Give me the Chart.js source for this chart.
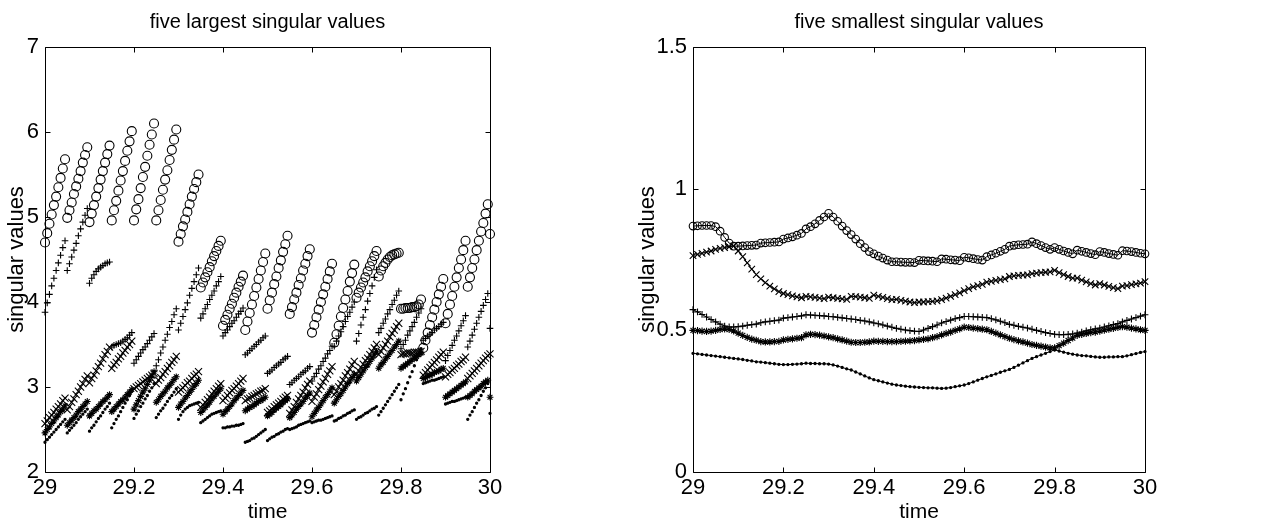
<!DOCTYPE html>
<html>
<head>
<meta charset="utf-8">
<script src="https://cdn.jsdelivr.net/npm/chart.js@4.4.1/dist/chart.umd.min.js"></script>
<style>
  html, body { margin: 0; padding: 0; background: #fff; }
  #wrap { position: relative; width: 1268px; height: 526px; overflow: hidden; }
  canvas { position: absolute; top: 0; }
  #chart-largest { left: 0; width: 630px; height: 526px; }
  #chart-smallest { left: 630px; width: 638px; height: 526px; }
</style>
</head>
<body>
<div id="wrap">
  <canvas id="chart-largest" width="630" height="526"></canvas>
  <canvas id="chart-smallest" width="638" height="526"></canvas>
</div>
<script>
// ---- left panel: five largest singular values, sampled every 0.005 from 29 to 30 ----
// one row per 0.05 block (10 samples), last value is t = 30
var largeCircle = [
  4.70,4.81,4.92,5.03,5.14,5.24,5.35,5.46,5.57,5.68,
  4.99,5.08,5.17,5.27,5.36,5.45,5.54,5.64,5.73,5.82,
  4.94,5.04,5.14,5.24,5.34,5.44,5.54,5.64,5.74,5.84,
  4.96,5.08,5.19,5.31,5.43,5.54,5.66,5.78,5.89,6.01,
  4.96,5.09,5.21,5.34,5.47,5.59,5.72,5.85,5.97,6.10,
  4.96,5.08,5.20,5.32,5.44,5.55,5.67,5.79,5.91,6.03,
  4.71,4.80,4.89,4.97,5.06,5.15,5.24,5.33,5.41,5.50,
  4.17,4.23,4.29,4.35,4.41,4.48,4.54,4.60,4.66,4.72,
  3.72,3.79,3.85,3.92,3.98,4.05,4.11,4.18,4.24,4.31,
  3.67,3.77,3.87,3.97,4.07,4.17,4.27,4.37,4.47,4.57,
  3.92,4.02,4.11,4.21,4.30,4.40,4.49,4.59,4.68,4.78,
  3.86,3.94,4.03,4.11,4.20,4.28,4.37,4.45,4.54,4.62,
  3.64,3.73,3.82,3.91,4.00,4.09,4.18,4.27,4.36,4.45,
  3.52,3.62,3.72,3.83,3.93,4.03,4.13,4.24,4.34,4.44,
  4.05,4.11,4.17,4.23,4.29,4.36,4.42,4.48,4.54,4.60,
  4.30,4.37,4.42,4.46,4.50,4.53,4.55,4.56,4.57,4.58,
  3.92,3.92,3.93,3.93,3.93,3.94,3.94,3.95,3.97,4.03,
  3.46,3.55,3.64,3.73,3.82,3.91,4.00,4.09,4.18,4.27,
  3.75,3.86,3.97,4.07,4.18,4.29,4.40,4.50,4.61,4.72,
  4.18,4.29,4.40,4.50,4.61,4.72,4.83,4.93,5.04,5.15,
  4.80
];
var largePlus = [
  3.88,3.99,4.09,4.19,4.28,4.37,4.46,4.55,4.64,4.72,
  4.37,4.45,4.53,4.61,4.69,4.78,4.86,4.94,5.02,5.10,
  4.22,4.28,4.32,4.36,4.39,4.41,4.43,4.45,4.46,4.47,
  3.47,3.49,3.50,3.51,3.52,3.54,3.56,3.58,3.61,3.64,
  3.28,3.32,3.36,3.40,3.44,3.47,3.51,3.55,3.59,3.63,
  3.25,3.32,3.40,3.47,3.55,3.62,3.70,3.77,3.85,3.92,
  3.67,3.75,3.83,3.91,3.99,4.08,4.16,4.24,4.32,4.40,
  3.81,3.86,3.92,3.97,4.03,4.08,4.13,4.19,4.24,4.30,
  3.60,3.64,3.67,3.71,3.75,3.78,3.82,3.86,3.89,3.93,
  3.38,3.40,3.43,3.45,3.48,3.50,3.53,3.55,3.58,3.60,
  3.16,3.18,3.20,3.23,3.25,3.27,3.29,3.32,3.34,3.36,
  3.03,3.05,3.08,3.10,3.12,3.15,3.17,3.19,3.22,3.24,
  3.07,3.12,3.16,3.21,3.25,3.30,3.34,3.39,3.43,3.48,
  3.48,3.54,3.60,3.65,3.71,3.77,3.83,3.88,3.94,4.00,
  3.54,3.63,3.73,3.82,3.91,4.01,4.10,4.19,4.29,4.38,
  3.64,3.69,3.75,3.80,3.86,3.91,3.97,4.02,4.08,4.13,
  3.45,3.50,3.55,3.61,3.66,3.71,3.76,3.82,3.87,3.92,
  3.55,3.57,3.60,3.62,3.64,3.67,3.69,3.71,3.74,3.76,
  3.31,3.37,3.43,3.49,3.55,3.60,3.66,3.72,3.78,3.84,
  3.47,3.54,3.61,3.68,3.75,3.82,3.89,3.96,4.03,4.10,
  3.69
];
var largeCross = [
  2.57,2.60,2.64,2.67,2.70,2.74,2.77,2.80,2.84,2.87,
  2.73,2.77,2.82,2.86,2.91,2.95,3.00,3.04,3.09,3.13,
  3.05,3.10,3.14,3.19,3.24,3.28,3.33,3.38,3.42,3.47,
  3.22,3.26,3.29,3.33,3.36,3.40,3.43,3.47,3.50,3.54,
  2.98,3.00,3.02,3.04,3.06,3.08,3.10,3.12,3.14,3.16,
  3.04,3.08,3.11,3.15,3.18,3.22,3.25,3.29,3.32,3.36,
  2.94,2.97,2.99,3.02,3.05,3.07,3.10,3.13,3.15,3.18,
  2.76,2.79,2.82,2.85,2.88,2.92,2.95,2.98,3.01,3.04,
  2.84,2.87,2.90,2.93,2.96,2.98,3.01,3.04,3.07,3.10,
  2.84,2.86,2.87,2.89,2.90,2.92,2.93,2.95,2.96,2.98,
  2.70,2.72,2.74,2.77,2.79,2.81,2.83,2.86,2.88,2.90,
  2.69,2.73,2.77,2.82,2.86,2.90,2.94,2.99,3.03,3.07,
  2.83,2.88,2.92,2.97,3.01,3.06,3.10,3.15,3.19,3.24,
  2.91,2.95,3.00,3.04,3.08,3.13,3.17,3.21,3.26,3.30,
  3.15,3.19,3.23,3.27,3.31,3.34,3.38,3.42,3.46,3.50,
  3.38,3.42,3.46,3.50,3.54,3.59,3.63,3.67,3.71,3.75,
  3.38,3.39,3.39,3.40,3.40,3.40,3.41,3.41,3.41,3.42,
  3.14,3.17,3.20,3.23,3.26,3.29,3.32,3.35,3.38,3.41,
  3.12,3.15,3.17,3.20,3.22,3.25,3.27,3.30,3.32,3.35,
  3.10,3.13,3.16,3.19,3.22,3.25,3.28,3.31,3.34,3.37,
  3.39
];
var largeStar = [
  2.46,2.50,2.53,2.57,2.60,2.64,2.67,2.71,2.74,2.78,
  2.55,2.58,2.61,2.64,2.67,2.71,2.74,2.77,2.80,2.83,
  2.66,2.69,2.72,2.74,2.77,2.80,2.83,2.85,2.88,2.91,
  2.71,2.74,2.77,2.80,2.83,2.85,2.88,2.91,2.94,2.97,
  2.74,2.79,2.84,2.89,2.94,2.98,3.03,3.08,3.13,3.18,
  2.82,2.85,2.89,2.92,2.95,2.99,3.02,3.05,3.09,3.12,
  2.76,2.80,2.83,2.87,2.90,2.94,2.97,3.01,3.04,3.08,
  2.70,2.73,2.76,2.79,2.82,2.86,2.89,2.92,2.95,2.98,
  2.68,2.71,2.74,2.77,2.80,2.84,2.87,2.90,2.93,2.96,
  2.72,2.74,2.76,2.77,2.79,2.81,2.83,2.84,2.86,2.88,
  2.66,2.68,2.70,2.73,2.75,2.77,2.79,2.82,2.84,2.86,
  2.64,2.67,2.70,2.74,2.77,2.80,2.83,2.87,2.90,2.93,
  2.65,2.69,2.73,2.76,2.80,2.84,2.88,2.91,2.95,2.99,
  2.81,2.85,2.89,2.92,2.96,3.00,3.04,3.07,3.11,3.15,
  3.07,3.11,3.15,3.19,3.23,3.26,3.30,3.34,3.38,3.42,
  3.22,3.26,3.29,3.33,3.36,3.40,3.43,3.47,3.50,3.54,
  3.22,3.24,3.26,3.28,3.30,3.32,3.34,3.36,3.38,3.40,
  3.10,3.11,3.13,3.14,3.15,3.17,3.18,3.19,3.21,3.22,
  2.88,2.90,2.92,2.94,2.96,2.98,3.00,3.02,3.04,3.06,
  2.88,2.90,2.92,2.95,2.97,2.99,3.01,3.04,3.06,3.08,
  2.88
];
var largeDot = [
  2.35,2.38,2.41,2.44,2.47,2.50,2.53,2.56,2.59,2.62,
  2.46,2.49,2.52,2.55,2.58,2.62,2.65,2.68,2.71,2.74,
  2.48,2.52,2.55,2.59,2.63,2.66,2.70,2.74,2.77,2.81,
  2.52,2.57,2.62,2.66,2.71,2.76,2.81,2.85,2.90,2.95,
  2.63,2.68,2.72,2.77,2.81,2.86,2.90,2.95,2.99,3.04,
  2.64,2.68,2.72,2.75,2.79,2.83,2.87,2.90,2.94,2.98,
  2.62,2.67,2.71,2.74,2.76,2.78,2.79,2.80,2.81,2.82,
  2.58,2.60,2.62,2.64,2.66,2.68,2.69,2.70,2.71,2.72,
  2.52,2.52,2.53,2.53,2.54,2.54,2.55,2.55,2.56,2.57,
  2.35,2.36,2.37,2.39,2.40,2.42,2.44,2.46,2.48,2.50,
  2.37,2.39,2.41,2.42,2.44,2.45,2.47,2.48,2.50,2.51,
  2.50,2.51,2.52,2.53,2.55,2.56,2.57,2.58,2.59,2.60,
  2.58,2.59,2.60,2.61,2.61,2.62,2.63,2.64,2.65,2.66,
  2.60,2.61,2.63,2.64,2.66,2.67,2.69,2.70,2.72,2.73,
  2.62,2.64,2.65,2.67,2.69,2.70,2.72,2.74,2.75,2.77,
  2.67,2.71,2.75,2.79,2.83,2.87,2.91,2.95,2.99,3.03,
  2.85,2.92,2.98,3.05,3.12,3.18,3.25,3.32,3.38,3.45,
  3.04,3.05,3.06,3.07,3.08,3.08,3.09,3.10,3.11,3.12,
  2.80,2.81,2.82,2.83,2.83,2.84,2.85,2.86,2.87,2.88,
  2.62,2.67,2.71,2.76,2.81,2.85,2.90,2.95,2.99,3.04,
  2.69
];

// ---- right panel: five smallest singular values, sampled every 0.01 from 29 to 30 ----
var smallCircle = [
  .868,.869,.870,.870,.870,.866,.850,.828,.808,.797,
  .797,.798,.799,.800,.801,.808,.809,.810,.811,.812,
  .822,.826,.830,.836,.842,.858,.866,.876,.888,.900,
  .913,.900,.885,.868,.852,.838,.822,.806,.792,.778,
  .770,.762,.755,.748,.742,.742,.741,.740,.740,.739,
  .747,.746,.745,.744,.742,.752,.751,.749,.748,.746,
  .758,.756,.753,.750,.748,.760,.766,.772,.779,.786,
  .797,.800,.802,.803,.804,.812,.806,.799,.792,.786,
  .792,.786,.780,.775,.770,.783,.779,.775,.771,.767,
  .778,.775,.771,.768,.765,.781,.780,.778,.775,.772,
  .770
];
var smallCross = [
  .764,.768,.772,.776,.780,.786,.789,.792,.795,.797,
  .780,.760,.738,.716,.697,.682,.668,.656,.646,.637,
  .630,.626,.622,.618,.615,.620,.618,.616,.614,.612,
  .617,.615,.613,.611,.609,.620,.619,.617,.615,.613,
  .624,.620,.616,.612,.608,.609,.606,.603,.600,.598,
  .600,.600,.601,.602,.604,.608,.614,.620,.626,.632,
  .640,.647,.653,.658,.662,.670,.673,.676,.679,.682,
  .690,.692,.694,.695,.696,.700,.702,.704,.705,.706,
  .712,.704,.697,.690,.684,.684,.677,.671,.665,.660,
  .665,.660,.655,.651,.647,.656,.658,.661,.664,.667,
  .672
];
var smallPlus = [
  .573,.565,.556,.547,.538,.530,.522,.515,.512,.512,
  .513,.515,.518,.520,.522,.527,.530,.532,.534,.536,
  .543,.545,.547,.549,.551,.555,.554,.553,.552,.551,
  .549,.548,.546,.544,.542,.540,.538,.535,.533,.530,
  .526,.523,.519,.515,.511,.507,.504,.501,.499,.497,
  .496,.501,.507,.513,.519,.526,.531,.536,.541,.545,
  .549,.549,.548,.547,.546,.545,.541,.537,.532,.527,
  .521,.518,.514,.511,.508,.504,.500,.496,.492,.489,
  .486,.485,.485,.486,.487,.490,.494,.498,.502,.505,
  .508,.512,.516,.520,.524,.530,.535,.540,.545,.550,
  .555
];
var smallStar = [
  .500,.499,.497,.496,.497,.500,.503,.505,.503,.498,
  .490,.482,.475,.469,.465,.460,.459,.459,.460,.461,
  .466,.468,.470,.472,.474,.484,.486,.485,.483,.480,
  .477,.474,.470,.466,.462,.458,.457,.457,.458,.459,
  .462,.461,.461,.460,.460,.460,.461,.462,.463,.464,
  .466,.468,.470,.474,.478,.484,.489,.494,.500,.505,
  .511,.510,.508,.506,.504,.502,.496,.490,.484,.478,
  .472,.467,.463,.459,.455,.450,.447,.444,.441,.438,
  .438,.446,.455,.464,.473,.482,.486,.489,.492,.494,
  .497,.501,.504,.507,.510,.513,.511,.508,.505,.502,
  .500
];
var smallDot = [
  .419,.417,.415,.413,.411,.409,.407,.405,.403,.401,
  .399,.397,.394,.392,.389,.388,.386,.384,.382,.380,
  .379,.379,.380,.381,.382,.384,.383,.383,.382,.382,
  .381,.378,.374,.369,.364,.360,.353,.346,.339,.332,
  .326,.322,.318,.314,.310,.307,.305,.303,.301,.300,
  .299,.298,.297,.297,.296,.295,.296,.298,.301,.304,
  .307,.312,.318,.324,.330,.336,.341,.346,.352,.357,
  .362,.369,.377,.385,.393,.401,.407,.413,.419,.425,
  .431,.427,.423,.419,.416,.413,.411,.410,.408,.406,
  .405,.405,.406,.406,.407,.407,.410,.414,.418,.422,
  .425
];

// sample times
var largeTimes = largeCircle.map(function (v, i) { return 29 + i * 0.005; });
var smallTimes = smallCircle.map(function (v, i) { return 29 + i * 0.01; });

Chart.defaults.font.family = '"Liberation Sans", Arial, Helvetica, sans-serif';
Chart.defaults.color = '#000';

function markers(times, values, style, radius, filled, joined) {
    return {
        data: times.map(function (t, i) { return { x: t, y: values[i] }; }),
        showLine: !!joined,
        borderColor: '#000',
        borderWidth: 1,
        pointStyle: style,
        pointRadius: radius,
        pointHoverRadius: radius,
        pointBorderWidth: 1.1,
        pointBorderColor: '#000',
        pointBackgroundColor: filled ? '#000' : 'rgba(0,0,0,0)',
        clip: false
    };
}

// MATLAB-like box with inward ticks on all four sides
var boxTicks = {
    id: 'boxTicks',
    afterDraw: function (chart) {
        var ctx = chart.ctx, a = chart.chartArea;
        var xs = chart.scales.x, ys = chart.scales.y;
        var len = 5;
        var l = Math.round(a.left) + 0.5, r = Math.round(a.right) + 0.5;
        var t = Math.round(a.top) + 0.5, b = Math.round(a.bottom) + 0.5;
        ctx.save();
        ctx.strokeStyle = '#000';
        ctx.lineWidth = 1;
        ctx.beginPath();
        ctx.rect(l, t, r - l, b - t);
        xs.ticks.forEach(function (tk) {
            var px = Math.round(xs.getPixelForValue(tk.value)) + 0.5;
            ctx.moveTo(px, b); ctx.lineTo(px, b - len);
            ctx.moveTo(px, t); ctx.lineTo(px, t + len);
        });
        ys.ticks.forEach(function (tk) {
            var py = Math.round(ys.getPixelForValue(tk.value)) + 0.5;
            ctx.moveTo(l, py); ctx.lineTo(l + len, py);
            ctx.moveTo(r, py); ctx.lineTo(r - len, py);
        });
        ctx.stroke();
        ctx.restore();
    }
};

function createOptions(title, ymin, ymax, ystep, yWidth, padRight, yTitlePad) {
    return {
        responsive: false,
        animation: false,
        events: [],
        layout: { padding: { left: 0, right: padRight, top: 0, bottom: 0 } },
        plugins: {
            legend: { display: false },
            tooltip: { enabled: false },
            title: {
                display: true,
                text: title,
                fullSize: false,
                color: '#000',
                font: { size: 20, weight: 'normal' },
                padding: { top: 10, bottom: 13 }
            }
        },
        scales: {
            x: {
                type: 'linear',
                min: 29,
                max: 30,
                grid: { display: false, drawTicks: false },
                border: { display: false },
                ticks: {
                    stepSize: 0.2,
                    padding: 3,
                    font: { size: 22 },
                    color: '#000',
                    callback: function (v) { return String(Math.round(v * 10) / 10); }
                },
                title: { display: true, text: 'time', font: { size: 21, lineHeight: 1 }, padding: { top: 0, bottom: 3 } },
                afterFit: function (s) { s.height = 54; }
            },
            y: {
                type: 'linear',
                min: ymin,
                max: ymax,
                grid: { display: false, drawTicks: false },
                border: { display: false },
                ticks: {
                    stepSize: ystep,
                    padding: 6,
                    font: { size: 22 },
                    color: '#000',
                    callback: function (v) { return String(Math.round(v * 10) / 10); }
                },
                title: { display: true, text: 'singular values', font: { size: 22, lineHeight: 1 }, padding: { top: yTitlePad, bottom: 0 } },
                afterFit: function (s) { s.width = yWidth; }
            }
        }
    };
}

new Chart(document.getElementById('chart-largest'), {
    type: 'scatter',
    data: {
        datasets: [
            markers(largeTimes, largeCircle, 'circle', 4.5, false),
            markers(largeTimes, largePlus, 'cross', 3.3, false),
            markers(largeTimes, largeCross, 'crossRot', 5, false),
            markers(largeTimes, largeStar, 'star', 3.4, false),
            markers(largeTimes, largeDot, 'circle', 1.1, true)
        ]
    },
    options: createOptions('five largest singular values', 2, 7, 1, 45, 140, 6),
    plugins: [boxTicks]
});

new Chart(document.getElementById('chart-smallest'), {
    type: 'scatter',
    data: {
        datasets: [
            markers(smallTimes, smallCircle, 'circle', 3.8, false, true),
            markers(smallTimes, smallCross, 'crossRot', 4.6, false, true),
            markers(smallTimes, smallPlus, 'cross', 3.4, false, true),
            markers(smallTimes, smallStar, 'star', 3.6, false, true),
            markers(smallTimes, smallDot, 'circle', 1.1, true, true)
        ]
    },
    options: createOptions('five smallest singular values', 0, 1.5, 0.5, 63, 123, 7),
    plugins: [boxTicks]
});
</script>
</body>
</html>
